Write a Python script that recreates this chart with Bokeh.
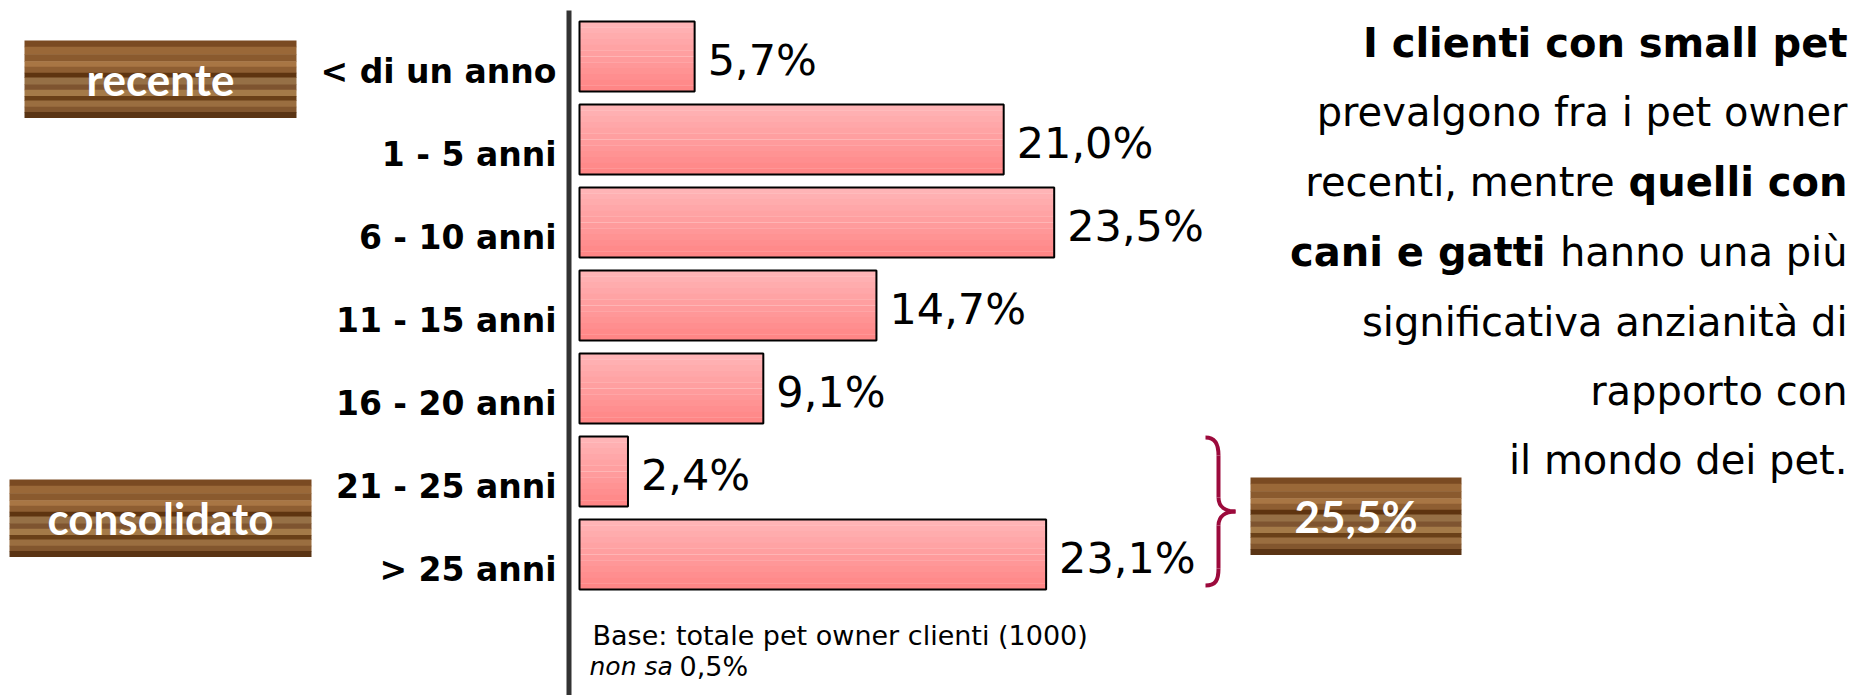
from bokeh.plotting import figure
from bokeh.models import Range1d
from bokeh.core.properties import value
from bokeh.embed import file_html
from bokeh.resources import INLINE

# ---------------- data ----------------
categories = ["< di un anno", "1 - 5 anni", "6 - 10 anni", "11 - 15 anni",
              "16 - 20 anni", "21 - 25 anni", "> 25 anni"]
values = [5.7, 21.0, 23.5, 14.7, 9.1, 2.4, 23.1]
value_labels = [f"{v:.1f}".replace(".", ",") + "%" for v in values]
group_labels = ["recente", "consolidato"]
group_total = "25,5%"
note_base = " Base: totale pet owner clienti (1000)"
note_nonsa = "non sa"
note_nonsa_value = "0,5%"

# ---------------- geometry (page pixels) ----------------
W, H = 1852, 695
PPP = 20.2      # pixels per percent
X0 = 579        # page px of 0 %
Y0 = 56         # page px of first bar centre
PITCH = 83.0
BAR_H = 70.0 / PITCH


def dx(px):
    return (px - X0) / PPP


def dy(py):
    return (py - Y0) / PITCH


p = figure(width=W, height=H,
           x_range=Range1d(dx(0), dx(W)),
           y_range=Range1d(dy(H), dy(0)),
           output_backend="svg", toolbar_location=None, min_border=0,
           x_axis_location=None, y_axis_location=None)
p.grid.visible = False
p.outline_line_color = None
p.background_fill_color = "white"

# axis line
p.segment(x0=[dx(568.5)], y0=[dy(10)], x1=[dx(568.5)], y1=[dy(710)],
          line_color="#333333", line_width=5)

# ---------------- bars with vertical gradient ----------------
N = 12
top_c = (0xFF, 0xB6, 0xB8)
bot_c = (0xFF, 0x84, 0x84)
ys, lefts, rights, hs, cols = [], [], [], [], []
for i, v in enumerate(values):
    for k in range(N):
        t = (k + 0.5) / N
        c = tuple(int(round(top_c[j] + (bot_c[j] - top_c[j]) * t)) for j in range(3))
        ys.append(i - BAR_H / 2 + (k + 0.5) * BAR_H / N)
        lefts.append(0)
        rights.append(v)
        hs.append(BAR_H / N * 1.02)
        cols.append("#%02x%02x%02x" % c)
p.hbar(y=ys, left=lefts, right=rights, height=hs, fill_color=cols, line_color=None)
idx = list(range(len(values)))
p.hbar(y=idx, left=0, right=values, height=BAR_H, fill_color=None,
       line_color="black", line_width=2)

# value labels
p.text(x=values, y=idx, text=value_labels, x_offset=13, y_offset=3,
       text_font=value("DejaVu Sans"), text_font_size="43px",
       text_align="left", text_baseline="middle", text_color="black")

# category labels
p.text(x=[dx(556)] * len(categories), y=idx, text=categories, y_offset=15,
       text_font=value("DejaVu Sans"), text_font_style="bold",
       text_font_size="33px", text_align="right", text_baseline="middle",
       text_color="black")

# ---------------- wooden boxes ----------------
stripes = [(0.08, "#7a4a22"), (0.10, "#9a6838"), (0.09, "#8a5a2e"), (0.07, "#a87644"),
           (0.08, "#8e5e32"), (0.06, "#5e3410"), (0.09, "#967046"), (0.07, "#7e5430"),
           (0.08, "#a47a48"), (0.06, "#6a4018"), (0.08, "#9a6e40"), (0.07, "#82562e"),
           (0.07, "#5a3414")]


def wood(x0, y0, x1, y1, label):
    h = y1 - y0
    cur = y0
    L, R, T, B, C = [], [], [], [], []
    for f, c in stripes:
        L.append(dx(x0)); R.append(dx(x1))
        T.append(dy(cur)); B.append(dy(cur + f * h + 0.5))
        C.append(c)
        cur += f * h
    p.quad(left=L, right=R, top=T, bottom=B, fill_color=C, line_color=None)
    p.text(x=[dx((x0 + x1) / 2)], y=[dy((y0 + y1) / 2)], text=[label],
           text_font=value("Lato"), text_font_style="bold", text_font_size="44px",
           text_align="center", text_baseline="middle", text_color="white")


wood(24, 40, 296, 117, group_labels[0])
wood(9, 479, 311, 556, group_labels[1])
wood(1250, 477, 1461, 554, group_total)

# ---------------- brace ----------------
bc = "#9c0a3c"
sx, tx = 1218, 1235
p.bezier(x0=[dx(1205), dx(sx), dx(tx), dx(sx)],
         y0=[dy(437), dy(497), dy(511), dy(568)],
         x1=[dx(sx), dx(tx), dx(sx), dx(1205)],
         y1=[dy(455), dy(511), dy(525), dy(585)],
         cx0=[dx(1215), dx(sx), dx(1226), dx(sx)],
         cy0=[dy(437), dy(507), dy(511), dy(580)],
         cx1=[dx(sx), dx(1226), dx(sx), dx(1215)],
         cy1=[dy(444), dy(511), dy(515), dy(585)],
         line_color=bc, line_width=4)
p.segment(x0=[dx(sx), dx(sx)], y0=[dy(455), dy(525)],
          x1=[dx(sx), dx(sx)], y1=[dy(497), dy(568)], line_color=bc, line_width=4)

# ---------------- commentary text ----------------
RX = dx(1847)
F = value("DejaVu Sans")
TS = "40px"


def t(x, y, s, bold=False, align="right", size=TS, italic=False):
    style = "bold" if bold else ("italic" if italic else "normal")
    p.text(x=[x], y=[dy(y)], text=[s], text_font=F, text_font_style=style,
           text_font_size=size, text_align=align, text_baseline="alphabetic",
           text_color="black")


t(RX, 42, "I clienti con small pet", bold=True)
t(RX, 111, "prevalgono fra i pet owner")
t(RX, 181, "quelli con", bold=True)
t(dx(1614), 181, "recenti, mentre")
t(RX, 251, "hanno una più")
t(dx(1545), 251, "cani e gatti", bold=True)
t(RX, 321, "significativa anzianità di")
t(RX, 390, "rapporto con")
t(RX, 459, "il mondo dei pet.")

# ---------------- notes ----------------
t(dx(592), 635, note_base, align="left", size="27px")
t(dx(589), 666, note_nonsa, align="left", size="25px", italic=True)
t(dx(679), 666, note_nonsa_value, align="left", size="27px")

open("out.html", "w").write(file_html(p, INLINE))
